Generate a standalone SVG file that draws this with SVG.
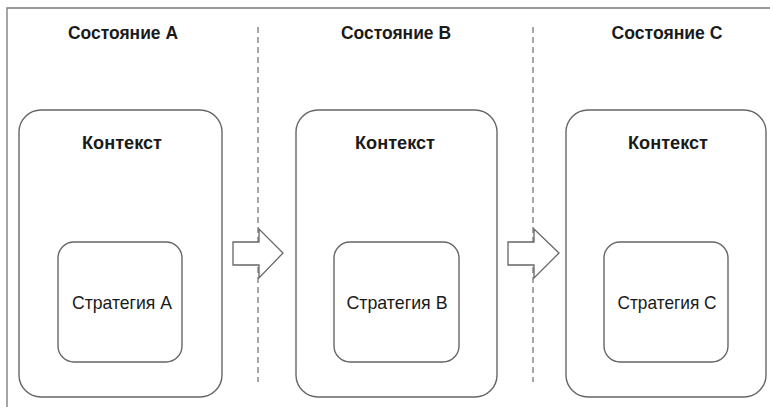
<svg xmlns="http://www.w3.org/2000/svg" width="770" height="407" viewBox="0 0 770 407">
<style>
.frame{fill:none;stroke:#777;stroke-width:1.3}
.box{fill:none;stroke:#666;stroke-width:1.4}
.div{fill:none;stroke:#777;stroke-width:1.3;stroke-dasharray:6 4}
.arrow{fill:#fff;stroke:#666;stroke-width:1.3;stroke-linejoin:miter}
.h{font-family:"Liberation Sans",Arial,sans-serif;font-weight:bold;font-size:19px;fill:#1a1a1a;text-anchor:middle}
.s{font-family:"Liberation Sans",Arial,sans-serif;font-size:19px;fill:#1a1a1a;text-anchor:middle}
</style>
<rect width="770" height="407" fill="#fff"/>
<g id="frame">
<path class="frame" d="M7,407 V8 H770"/>
</g>
<g id="dividers">
<line class="div" x1="258" y1="27" x2="258" y2="382"/>
<line class="div" x1="533" y1="27" x2="533" y2="382"/>
</g>
<g id="headers">
<text class="h" x="123" y="39" textLength="110" lengthAdjust="spacingAndGlyphs">Состояние A</text>
<text class="h" x="396" y="39" textLength="110" lengthAdjust="spacingAndGlyphs">Состояние B</text>
<text class="h" x="667" y="39" textLength="111" lengthAdjust="spacingAndGlyphs">Состояние C</text>
</g>
<g id="contextA">
<rect class="box" x="19" y="110" width="203" height="287" rx="22"/>
<text class="h" x="122" y="149" textLength="80" lengthAdjust="spacingAndGlyphs">Контекст</text>
</g>
<g id="strategyA">
<rect class="box" x="58" y="242" width="124" height="120" rx="16"/>
<text class="s" x="122" y="309" textLength="100" lengthAdjust="spacingAndGlyphs">Стратегия A</text>
</g>
<g id="contextB">
<rect class="box" x="296" y="110" width="201" height="287" rx="22"/>
<text class="h" x="395" y="149" textLength="80" lengthAdjust="spacingAndGlyphs">Контекст</text>
</g>
<g id="strategyB">
<rect class="box" x="334" y="242" width="125" height="120" rx="16"/>
<text class="s" x="397" y="309" textLength="101" lengthAdjust="spacingAndGlyphs">Стратегия B</text>
</g>
<g id="contextC">
<rect class="box" x="566" y="110" width="200" height="287" rx="22"/>
<text class="h" x="668" y="149" textLength="80" lengthAdjust="spacingAndGlyphs">Контекст</text>
</g>
<g id="strategyC">
<rect class="box" x="604" y="242" width="124" height="120" rx="16"/>
<text class="s" x="667" y="309" textLength="99" lengthAdjust="spacingAndGlyphs">Стратегия C</text>
</g>
<g id="connectors">
<path class="arrow" d="M233,242 H259 V229 L283,253 L259,278 V265 H233 Z"/>
<path class="arrow" d="M508,242 H534 V229 L559,253 L534,278 V265 H508 Z"/>
</g>
</svg>
